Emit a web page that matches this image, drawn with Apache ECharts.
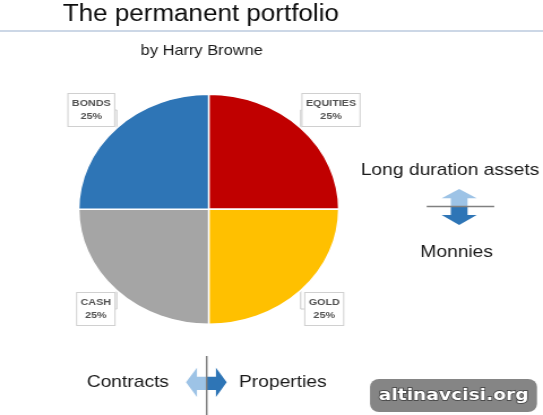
<!DOCTYPE html>
<html>
<head>
<meta charset="utf-8">
<title>The permanent portfolio</title>
<script src="https://cdn.jsdelivr.net/npm/echarts@6/dist/echarts.min.js"></script>
<style>
  html, body { margin: 0; padding: 0; background: #fff; overflow: hidden; }
  /* the source picture is stretched sideways, so the chart is too */
  #main { width: 480px; height: 415px; transform: scaleX(1.13125); transform-origin: 0 0; }
</style>
</head>
<body>
<div id="main"></div>
<script>
// slices, clockwise from 12 o'clock
var categories = ['EQUITIES', 'GOLD', 'CASH', 'BONDS'];
var shares = [25, 25, 25, 25];
var sliceColors = ['#c00000', '#ffc000', '#a5a5a5', '#2e75b6'];

// label box centres (chart space)
var labelPos = [[292.6, 110], [286.6, 309], [84.7, 309], [80.7, 110]];

var lightBlue = '#9dc3e6';
var darkBlue = '#2e75b6';
var font = '"Liberation Sans", Arial, sans-serif';

function txt(text, x, y, size, color) {
  return {
    type: 'text',
    style: {
      text: text, x: x, y: y, fill: color || '#1a1a1a',
      font: size + 'px ' + font, align: 'center', verticalAlign: 'middle'
    }
  };
}

var chart = echarts.init(document.getElementById('main'));

// up / down arrow (right side)
var ax = 405.9;
var upArrow = [[ax, 189], [ax + 15.5, 198.3], [ax + 7.4, 198.3], [ax + 7.4, 206.5], [ax - 7.4, 206.5], [ax - 7.4, 198.3], [ax - 15.5, 198.3]];
var downArrow = [[ax - 7.4, 206.5], [ax + 7.4, 206.5], [ax + 7.4, 215], [ax + 15.5, 215], [ax, 225], [ax - 15.5, 215], [ax - 7.4, 215]];
// left / right arrow (bottom)
var bx = 182.7, by = 382.3;
var leftArrow = [[164.4, by], [174.1, 367.7], [174.1, 376.7], [bx, 376.7], [bx, 390], [174.1, 390], [174.1, 397]];
var rightArrow = [[bx, 376.7], [190.9, 376.7], [190.9, 367.7], [200.4, by], [190.9, 397], [190.9, 390], [bx, 390]];

var option = {
  animation: false,
  backgroundColor: '#ffffff',
  graphic: [
    {
      type: 'text',
      style: { text: 'The permanent portfolio', x: 55.4, y: 15, fill: '#0d0d0d', font: '23px ' + font, align: 'left', verticalAlign: 'middle' }
    },
    { type: 'line', shape: { x1: 0, y1: 31, x2: 480, y2: 31 }, style: { stroke: '#ccd7e6', lineWidth: 2 } },
    txt('by Harry Browne', 178.3, 51, 14.5),
    txt('Long duration assets', 397.8, 170, 17),
    txt('Monnies', 403.7, 252, 17),
    txt('Contracts', 113, 382, 17),
    txt('Properties', 250, 382, 17),
    { type: 'polygon', shape: { points: upArrow }, style: { fill: lightBlue } },
    { type: 'polygon', shape: { points: downArrow }, style: { fill: darkBlue } },
    { type: 'line', z: 10, shape: { x1: 377.2, y1: 206.5, x2: 436.9, y2: 206.5 }, style: { stroke: '#808080', lineWidth: 1.5 } },
    { type: 'polygon', shape: { points: leftArrow }, style: { fill: lightBlue } },
    { type: 'polygon', shape: { points: rightArrow }, style: { fill: darkBlue } },
    { type: 'line', z: 10, shape: { x1: bx, y1: 356, x2: bx, y2: 415 }, style: { stroke: '#808080', lineWidth: 1.5 } },
    // watermark
    { type: 'rect', shape: { x: 327.1, y: 379, width: 147.6, height: 33, r: 8 }, style: { fill: '#858585' } },
    {
      type: 'text',
      style: {
        text: 'altinavcisi.org', x: 401, y: 396, fill: '#ffffff',
        font: 'bold 16.5px "DejaVu Sans", sans-serif', align: 'center', verticalAlign: 'middle',
        stroke: '#3a3a3a', lineWidth: 1.5
      }
    }
  ],
  series: [
    {
      type: 'pie',
      center: [184.5, 209.3],
      radius: 115,
      startAngle: 90,
      clockwise: true,
      silent: true,
      itemStyle: { borderColor: '#ffffff', borderWidth: 1.5 },
      label: {
        show: true,
        position: 'outside',
        formatter: '{b}\n{d}%',
        fontFamily: font,
        fontSize: 9.5,
        fontWeight: 'bold',
        color: '#525252',
        lineHeight: 13,
        align: 'center',
        backgroundColor: '#ffffff',
        borderColor: '#d0d0d0',
        borderWidth: 1,
        padding: [3, 3]
      },
      labelLine: { show: true, length: 4, length2: 4, lineStyle: { color: '#c8c8c8', width: 1 } },
      labelLayout: function (params) {
        var p = labelPos[params.dataIndex];
        return { x: p[0], y: p[1], align: 'center', verticalAlign: 'middle' };
      },
      data: categories.map(function (c, i) {
        return { name: c, value: shares[i], itemStyle: { color: sliceColors[i] } };
      })
    }
  ]
};

chart.setOption(option);
</script>
</body>
</html>
